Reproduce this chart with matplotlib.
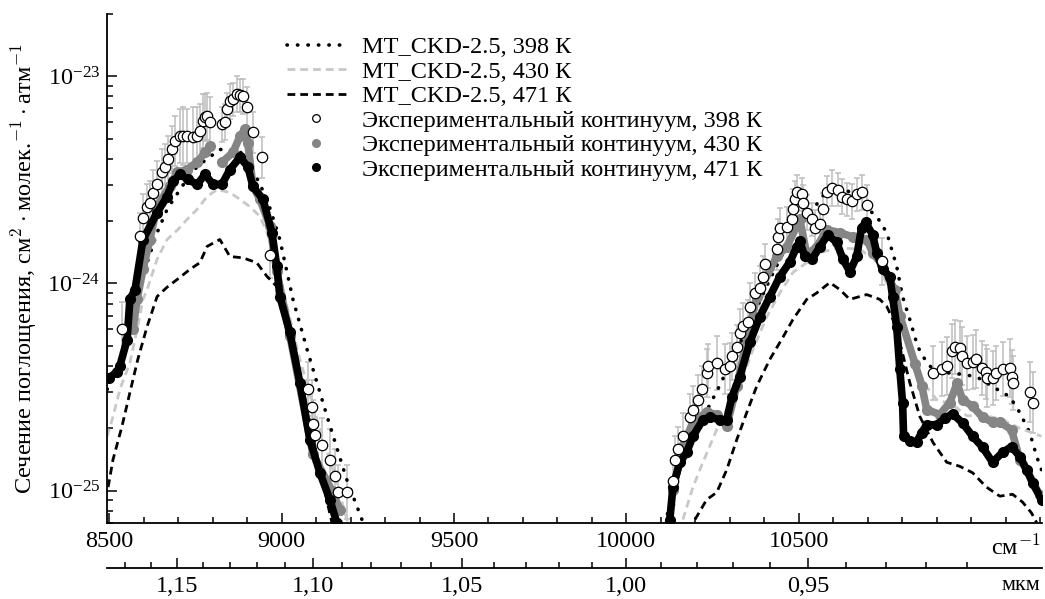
import numpy as np
import matplotlib
matplotlib.use('Agg')
import matplotlib.pyplot as plt
from matplotlib.lines import Line2D
from matplotlib.ticker import FixedLocator, FuncFormatter, LogLocator, NullFormatter

plt.rcParams['font.family'] = ['Liberation Serif', 'DejaVu Serif']
plt.rcParams['mathtext.fontset'] = 'cm'

nan = np.nan
UNIT = 1e-25  # all values below are in 1e-25 cm^2 molec^-1 atm^-1

# MT_CKD-2.5 model curves
ckd398_nu = [8494, 8531, 8560, 8583, 8610, 8639, 8668, 8711, 8755, 8821, 8879, 8923, 8958,
             8995, 9033, 9074, 9132, 9189, 9233, nan,
             10111, 10155, 10213, 10265, 10349, 10416, 10474, 10541, 10590, 10633, 10677,
             10726, 10755, 10784, 10801, 10822, 10845, 10871, 10900, 10946, 11015, 11076,
             11112, 11141, 11170, 11190, 11204]
ckd398 = [3.08, 3.94, 6.0, 9.35, 12.6, 17.6, 22.8, 29.4, 36.7, 44.4, 43.5, 33.6, 25.5,
          16.3, 8.38, 4.8, 2.28, 1.13, 0.725, nan,
          0.69, 1.26, 2.1, 3.08, 6.0, 10.45, 16.3, 22.8, 29.4, 29.0, 24.6,
          21.1, 17.6, 12.1, 8.65, 6.7, 4.95, 4.15, 3.70, 3.70, 3.55, 3.08,
          2.84, 2.38, 1.9, 1.46, 1.26]

ckd430_nu = [8494, 8511, 8531, 8560, 8581, 8598, 8610, 8639, 8668, 8699, 8726, 8755, 8784,
             8813, 8850, 8879, 8908, 8937, 8958, 8975, 8995, 9053, 9103, 9149, 9192, nan,
             10164, 10193, 10222, 10262, 10291, 10338, 10367, 10407, 10445, 10483, 10523,
             10561, 10619, 10677, 10720, 10764, 10801, 10830, 10865, 10900, 10946, 10987,
             11044, 11091, 11141, 11204]
ckd430 = [1.83, 2.27, 3.08, 4.14, 6.0, 8.38, 9.35, 13.1, 16.3, 18.2, 20.4, 22.8, 26.3,
          28.4, 27.5, 25.5, 23.5, 21.1, 17.6, 14.1, 10.8, 4.3, 2.2, 1.26, 0.70, nan,
          0.725, 1.04, 1.37, 1.97, 2.46, 3.55, 4.8, 6.9, 9.0, 11.3, 12.6,
          14.1, 14.9, 14.6, 13.1, 9.35, 6.7, 4.6, 3.25, 2.75, 2.6, 2.3,
          2.3, 2.2, 2.0, 1.83]

ckd471_nu = [8497, 8511, 8537, 8560, 8583, 8610, 8639, 8668, 8705, 8734, 8763, 8784, 8821,
             8850, 8888, 8928, 8958, 8986, 9004, 9030, 9068, 9111, 9146, nan,
             10199, 10233, 10262, 10291, 10320, 10349, 10378, 10416, 10454, 10483, 10523,
             10552, 10590, 10619, 10648, 10677, 10697, 10735, 10755, 10773, 10793, 10822,
             10851, 10889, 10929, 10967, 11004, 11044, 11083, 11120, 11149, 11175, 11190]
ckd471 = [1.04, 1.41, 2.04, 2.97, 4.3, 6.2, 8.65, 9.6, 10.7, 11.7, 12.6, 15.1, 16.3,
          13.5, 13.3, 12.6, 10.8, 9.68, 8.38, 5.7, 2.75, 1.26, 0.70, nan,
          0.725, 0.905, 0.98, 1.26, 1.76, 2.38, 3.19, 4.3, 5.5, 6.7, 8.38,
          9.0, 10.1, 9.35, 8.38, 8.65, 8.84, 8.38, 7.75, 6.7, 5.2, 3.32,
          2.28, 1.71, 1.37, 1.31, 1.22, 1.04, 0.94, 0.96, 0.88, 0.78, 0.70]

# experimental continuum
exp398_nu = [8537, 8589, 8598, 8610, 8618, 8627, 8639, 8653, 8662, 8670, 8682, 8691, 8705,
             8715, 8725, 8743, 8755, 8763, 8772, 8778, 8784, 8792, 8827, 8836, 8841, 8850,
             8859, 8871, 8879, 8888, 8899, 8917, 8943, 8966, 9076, 9088, 9091, 9097, 9117,
             9140, 9155, 9163, 9189,
             10135, 10141, 10149, 10164, 10184, 10193, 10207, 10219, 10233, 10236, 10262,
             10285, 10300, 10306, 10320, 10329, 10338, 10352, 10358, 10372, 10387, 10396,
             10401, 10436, 10439, 10445, 10465, 10480, 10483, 10488, 10494, 10509, 10512,
             10523, 10538, 10546, 10561, 10570, 10581, 10596, 10613, 10625, 10639, 10654,
             10668, 10683, 10697, 10740, 10888, 10914, 10931, 10943, 10952, 10967, 10973,
             10987, 11004, 11015, 11030, 11044, 11047, 11062, 11073, 11091, 11112, 11117,
             11120, 11170, 11178]
exp398 = [6.0, 16.9, 20.8, 23.3, 24.4, 27.2, 30.1, 34.4, 36.7, 39.7, 44.4, 48.5, 51.3,
          51.5, 51.3, 50.7, 51.3, 54.3, 60.6, 63.3, 64.1, 60.0, 58.6, 60.0, 69.3, 75.7,
          77.4, 81.9, 81.0, 80.0, 70.8, 53.6, 40.6, 13.8, 3.08, 2.52, 2.1, 1.86, 1.66,
          1.41, 1.17, 0.98, 0.99,
          1.11, 1.41, 1.58, 1.83, 2.26, 2.46, 2.75, 3.08, 3.70, 3.99, 4.15,
          3.85, 3.99, 4.45, 4.95, 5.78, 6.2, 6.5, 7.7, 9.0, 9.5, 10.8,
          12.4, 14.6, 16.8, 18.6, 18.8, 20.4, 22.8, 25.5, 27.5, 26.9, 24.6,
          22.0, 20.4, 18.6, 19.3, 22.8, 27.5, 29.0, 28.4, 26.3, 25.5, 24.9,
          26.9, 27.5, 23.8, 12.8, 3.7, 3.85, 3.99, 4.7, 4.95, 4.9, 4.45,
          4.15, 4.2, 4.3, 3.9, 3.75, 3.5, 3.5, 3.7, 3.85, 3.9, 3.55,
          3.3, 3.0, 2.66]
# error bar half-width as a multiplicative factor
exp398_err = [1.35, 1.3, 1.3, 1.3, 1.28, 1.3, 1.3, 1.3, 1.28, 1.3, 1.3, 1.32, 1.35,
              1.38, 1.35, 1.4, 1.38, 1.35, 1.35, 1.3, 1.3, 1.32, 1.22, 1.22, 1.2, 1.22,
              1.2, 1.22, 1.2, 1.22, 1.25, 1.25, 1.25, 1.3, 1.35, 1.35, 1.3, 1.35, 1.35,
              1.4, 1.35, 1.35, 1.35,
              1.3, 1.3, 1.28, 1.3, 1.3, 1.3, 1.32, 1.3, 1.3, 1.28, 1.35,
              1.32, 1.3, 1.3, 1.28, 1.3, 1.3, 1.28, 1.3, 1.25, 1.28, 1.25,
              1.25, 1.25, 1.22, 1.25, 1.25, 1.22, 1.25, 1.22, 1.22, 1.2, 1.22,
              1.22, 1.2, 1.22, 1.22, 1.2, 1.2, 1.22, 1.2, 1.22, 1.2, 1.22,
              1.2, 1.22, 1.25, 1.3, 1.35, 1.35, 1.38, 1.35, 1.35, 1.35, 1.38,
              1.35, 1.35, 1.38, 1.35, 1.35, 1.38, 1.35, 1.35, 1.35, 1.38, 1.35,
              1.35, 1.4, 1.4]

exp430_nu = [8569, 8581, 8598, 8618, 8639, 8676, 8697, 8725, 8755, 8778, 8792, nan,
             8827, 8859, 8879, 8894, 8902, 8917, 8937, 8966, 8986, 9024, 9091, 9146, 9169, nan,
             10135, 10164, 10193, 10233, 10262, 10291, 10320, 10378, 10436, 10465, 10503,
             10523, 10552, 10581, 10619, 10656, 10697, 10714, 10740, 10778, 10793, 10837,
             10857, 10871, 10909, 10938, 10959, 10975, 11004, 11033, 11062, 11083, 11117,
             11141, 11161, 11199]
exp430 = [6.0, 8.38, 11.7, 16.3, 23.6, 29.4, 34.4, 35.5, 38.5, 42.9, 45.9, nan,
          38.5, 42.9, 51.3, 55.5, 47.9, 29.4, 25.5, 19.0, 11.5, 5.6, 1.5, 1.0, 0.81, nan,
          1.01, 1.64, 2.14, 2.39, 2.33, 2.05, 3.19, 8.65, 13.5, 15.0, 20.4,
          13.8, 15.0, 18.2, 17.6, 16.8, 16.3, 14.1, 12.4, 9.35, 7.0, 4.1,
          3.2, 2.46, 2.33, 2.66, 3.3, 2.75, 2.55, 2.26, 2.14, 2.14, 1.97,
          1.41, 1.26, 0.95]

exp471_nu = [8500, 8523, 8531, 8552, 8560, 8575, 8598, 8639, 8668, 8685, 8705, 8728, 8755,
             8778, 8801, 8827, 8850, 8879, 8902, 8917, 8946, 8972, 8986, 8995, 9024, 9053,
             9082, 9111, 9140, 9160, nan,
             10126, 10135, 10155, 10175, 10193, 10222, 10242, 10271, 10291, 10306, 10329,
             10358, 10387, 10416, 10445, 10474, 10494, 10503, 10517, 10538, 10561, 10584,
             10610, 10628, 10648, 10668, 10682, 10694, 10714, 10726, 10743, 10764, 10772,
             10784, 10793, 10801, 10804, 10822, 10842, 10856, 10871, 10900, 10923, 10946,
             10975, 11004, 11033, 11062, 11091, 11117, 11141, 11161, 11178, 11204]
exp471 = [3.5, 3.75, 4.0, 5.36, 8.38, 9.35, 16.3, 22.0, 26.3, 31.1, 33.6, 31.8, 30.1,
          33.6, 30.1, 30.1, 35.5, 40.6, 36.7, 29.4, 25.5, 17.6, 12.1, 8.65, 5.8, 3.32,
          1.76, 1.22, 0.905, 0.70, nan,
          0.725, 1.04, 1.37, 1.53, 1.83, 2.2, 2.26, 2.2, 2.2, 2.83, 3.55,
          5.2, 6.9, 8.65, 10.8, 12.7, 15.0, 16.0, 13.5, 13.1, 15.0, 17.2,
          15.8, 13.1, 11.4, 13.5, 18.6, 19.7, 17.2, 14.1, 11.7, 10.8, 8.65,
          6.17, 3.85, 2.66, 1.83, 1.73, 1.72, 1.9, 2.08, 2.08, 2.23, 2.35,
          2.12, 1.83, 1.62, 1.37, 1.53, 1.63, 1.46, 1.26, 1.09, 0.905]

labels = ['MT_CKD-2.5, 398 К', 'MT_CKD-2.5, 430 К', 'MT_CKD-2.5, 471 К',
          'Экспериментальный континуум, 398 К',
          'Экспериментальный континуум, 430 К',
          'Экспериментальный континуум, 471 К']

FS = 17.5
DOTS = (0, (0.1, 2.8))
DASH = (0, (2.8, 1.8))

fig = plt.figure(figsize=(10.45, 5.99), dpi=100)
ax = fig.add_axes([0.1025, 0.1274, 0.8945, 0.8492])


def arr(v):
    return np.array(v, dtype=float) * UNIT


# error bars of the 398 K experiment
v398 = arr(exp398)
f398 = np.array(exp398_err)
ax.errorbar(exp398_nu, v398, yerr=[v398 - v398 / f398, v398 * f398 - v398],
            fmt='none', ecolor='#bdbdbd', elinewidth=1.1, capsize=2.5, capthick=1.1,
            zorder=1)

ax.plot(ckd398_nu, arr(ckd398), color='black', lw=2.6, ls=DOTS,
        dash_capstyle='round', zorder=2)
ax.plot(ckd430_nu, arr(ckd430), color='#c8c8c8', lw=2.0, ls=DASH, zorder=2)
ax.plot(ckd471_nu, arr(ckd471), color='black', lw=2.0, ls=DASH, zorder=2)

ax.plot(exp430_nu, arr(exp430), color='#858585', lw=5.5, marker='o', ms=7,
        solid_capstyle='round', solid_joinstyle='round', zorder=3)
ax.plot(exp471_nu, arr(exp471), color='black', lw=5.5, marker='o', ms=7,
        solid_capstyle='round', solid_joinstyle='round', zorder=4)
ax.plot(exp398_nu, v398, ls='none', marker='o', ms=7.5, mfc='white', mec='black',
        mew=0.9, zorder=5)

ax.set_yscale('log')
ax.set_xlim(8494, 11205)
ax.set_ylim(7.0e-26, 2.0e-23)

ax.spines['top'].set_visible(False)
ax.spines['right'].set_visible(False)
for s in ('left', 'bottom'):
    ax.spines[s].set_linewidth(1.3)

ax.xaxis.set_major_locator(FixedLocator([8500, 9000, 9500, 10000, 10500]))
ax.xaxis.set_minor_locator(FixedLocator([v for v in range(8500, 11201, 100)
                                         if v not in (8500, 9000, 9500, 10000, 10500)]))
ax.yaxis.set_major_locator(FixedLocator([1e-25, 1e-24, 1e-23]))
ax.yaxis.set_minor_locator(LogLocator(base=10, subs=np.arange(2, 10), numticks=20))
ax.yaxis.set_minor_formatter(NullFormatter())
ax.tick_params(which='both', direction='in', labelsize=FS, width=1.1)
ax.tick_params(which='major', length=7)
ax.tick_params(which='minor', length=4)
ax.tick_params(axis='x', pad=6)
ax.tick_params(axis='y', pad=5)

ax.set_ylabel('Сечение поглощения, см$^2\\cdot$молек.$^{-1}\\cdot$атм$^{-1}$',
              fontsize=FS, labelpad=6)
ax.text(0.999, -0.024, 'см$^{-1}$', transform=ax.transAxes, ha='right', va='top',
        fontsize=FS)


def inv(x):
    x = np.asarray(x, dtype=float)
    with np.errstate(divide='ignore', invalid='ignore'):
        return 1e4 / x


sec = ax.secondary_xaxis(-0.089, functions=(inv, inv))
sec.spines['bottom'].set_linewidth(1.3)
sec.xaxis.set_major_locator(FixedLocator([1.15, 1.10, 1.05, 1.00, 0.95]))
sec.xaxis.set_minor_locator(FixedLocator([1.17, 1.16, 1.14, 1.13, 1.12, 1.11, 1.09, 1.08,
                                          1.07, 1.06, 1.04, 1.03, 1.02, 1.01, 0.99, 0.98,
                                          0.97, 0.96, 0.94, 0.93, 0.92, 0.91]))
sec.xaxis.set_major_formatter(FuncFormatter(lambda v, p: f'{v:.2f}'.replace('.', ',')))
sec.tick_params(which='both', direction='in', labelsize=FS, width=1.1)
sec.tick_params(which='major', length=7, pad=6)
sec.tick_params(which='minor', length=4)
fig.text(0.995, 1 - 586 / 599, 'мкм', ha='right', va='center', fontsize=FS - 1.5)

handles = [
    Line2D([], [], color='black', lw=2.6, ls=DOTS, dash_capstyle='round'),
    Line2D([], [], color='#c8c8c8', lw=2.0, ls=DASH),
    Line2D([], [], color='black', lw=2.0, ls=DASH),
    Line2D([], [], ls='none', marker='o', ms=5.5, mfc='white', mec='black', mew=0.9),
    Line2D([], [], ls='none', marker='o', ms=5.5, color='#858585'),
    Line2D([], [], ls='none', marker='o', ms=5.5, color='black'),
]
ax.legend(handles, labels, loc='upper left', bbox_to_anchor=(0.192, 0.956),
          frameon=False, fontsize=FS, handlelength=2.45, handletextpad=0.65,
          labelspacing=0.1, borderpad=0, borderaxespad=0)

fig.savefig('out.png', dpi=100)
